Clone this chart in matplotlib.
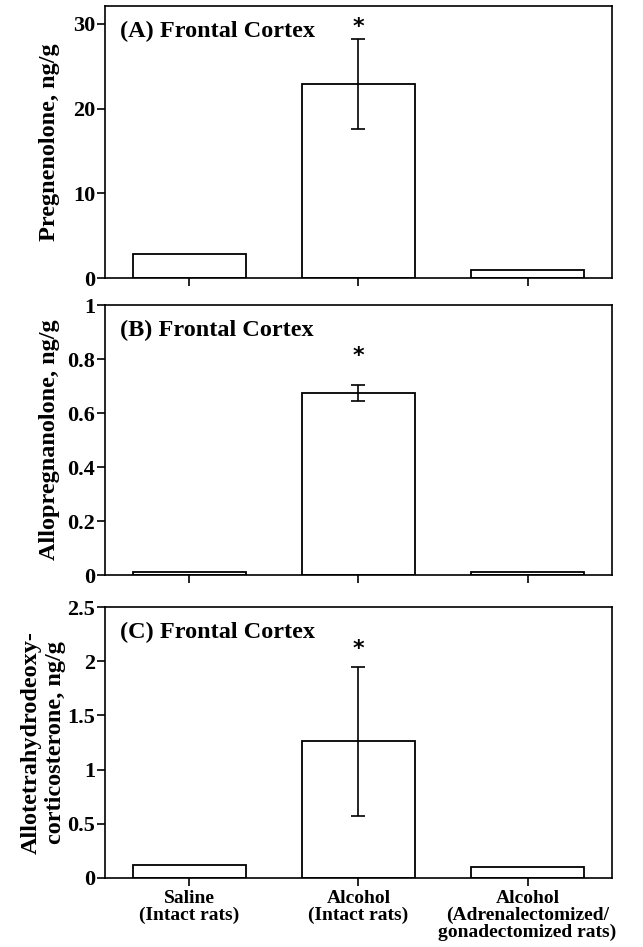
import numpy as np
import matplotlib
matplotlib.use("Agg")
import matplotlib.pyplot as plt

plt.rcParams['font.family'] = ['Liberation Serif', 'DejaVu Serif']
plt.rcParams['font.weight'] = 'bold'

groups = ["Saline\n(Intact rats)", "Alcohol\n(Intact rats)",
          "Alcohol\n(Adrenalectomized/\ngonadectomized rats)"]

# panel values (ng/g) and error bars (only the alcohol/intact group has one)
preg_vals = [2.8, 22.9, 1.0]
preg_err = [0, 5.35, 0]
allo_vals = [0.01, 0.673, 0.012]
allo_err = [0, 0.03, 0]
thdoc_vals = [0.12, 1.26, 0.10]
thdoc_err = [0, 0.69, 0]

panels = [
    dict(vals=preg_vals, err=preg_err, ylim=32.1, ticks=[0, 10, 20, 30],
         ticklabels=["0", "10", "20", "30"], ylabel="Pregnenolone, ng/g",
         title="(A) Frontal Cortex", star=29.6, lab_x=-0.089,
         box=[0.163, 0.7064, 0.789, 0.2872]),
    dict(vals=allo_vals, err=allo_err, ylim=1.0, ticks=[0, 0.2, 0.4, 0.6, 0.8, 1],
         ticklabels=["0", "0.2", "0.4", "0.6", "0.8", "1"], ylabel="Allopregnanolone, ng/g",
         title="(B) Frontal Cortex", star=0.81, lab_x=-0.089,
         box=[0.163, 0.3928, 0.789, 0.2851]),
    dict(vals=thdoc_vals, err=thdoc_err, ylim=2.5, ticks=[0, 0.5, 1, 1.5, 2, 2.5],
         ticklabels=["0", "0.5", "1", "1.5", "2", "2.5"],
         ylabel="Allotetrahydrodeoxy-\ncorticosterone, ng/g",
         title="(C) Frontal Cortex", star=2.11, lab_x=-0.076,
         box=[0.163, 0.0729, 0.789, 0.286]),
]

fig = plt.figure(figsize=(6.43, 9.47), dpi=100)
x = np.arange(len(groups))

for i, p in enumerate(panels):
    ax = fig.add_axes(p['box'])
    ax.bar(x, p['vals'], width=0.67, color='white', edgecolor='black', linewidth=1.3, zorder=2)
    for xi, v, e in zip(x, p['vals'], p['err']):
        if e > 0:
            ax.errorbar(xi, v, yerr=e, fmt='none', ecolor='black', elinewidth=1.2,
                        capsize=5, capthick=1.2, zorder=3)
            ax.text(xi, p['star'], "*", ha='center', va='center', fontsize=16,
                    fontweight='bold', family='DejaVu Sans')
    ax.set_xlim(-0.5, 2.5)
    ax.set_ylim(0, p['ylim'])
    ax.set_yticks(p['ticks'])
    ax.set_yticklabels(p['ticklabels'], fontsize=16, fontweight='bold')
    ax.set_xticks(x)
    if i == 2:
        ax.set_xticklabels(groups, fontsize=14, fontweight='bold', linespacing=0.95)
    else:
        ax.set_xticklabels([])
    ax.tick_params(axis='both', direction='out', length=6, width=1.2, pad=1)
    ax.tick_params(axis='x', pad=3)
    for s in ax.spines.values():
        s.set_linewidth(1.2)
    ax.set_ylabel(p['ylabel'], fontsize=17.5, fontweight='bold', linespacing=1.2)
    ax.yaxis.set_label_coords(p['lab_x'], 0.5)
    ax.text(0.03, 0.905, p['title'], transform=ax.transAxes, ha='left', va='center',
            fontsize=17.5, fontweight='bold')

fig.savefig("out.png", dpi=100)
